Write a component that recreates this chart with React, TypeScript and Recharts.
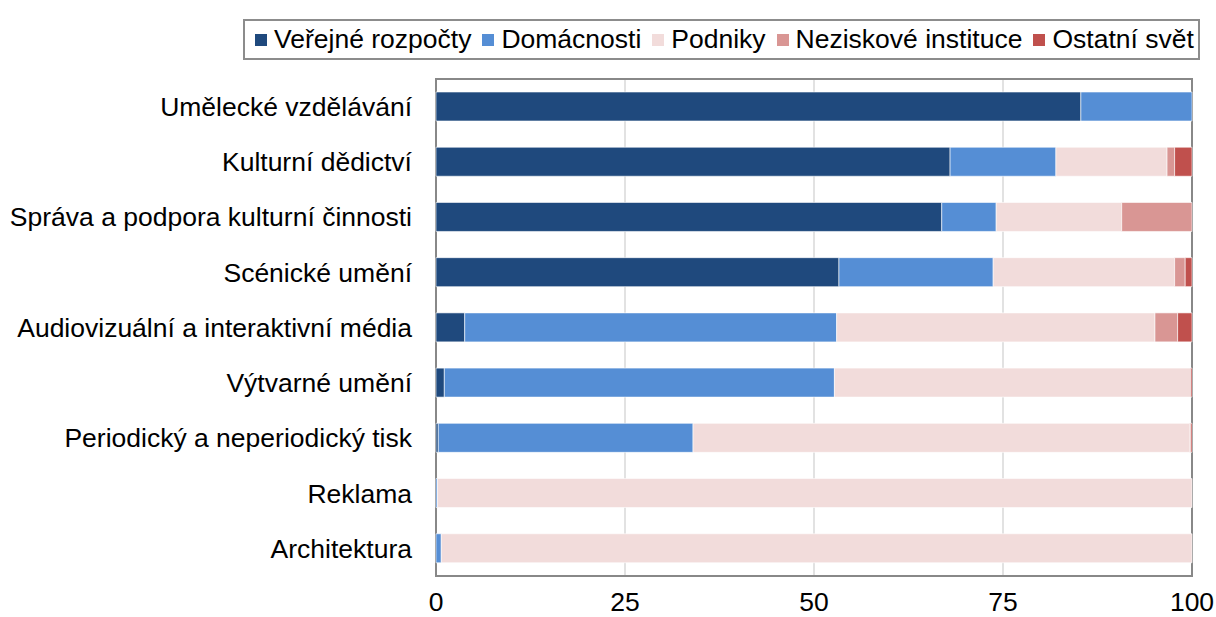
import { BarChart, Bar, XAxis, YAxis, CartesianGrid, ReferenceArea } from 'recharts';

const categories = [
  'Umělecké vzdělávání',
  'Kulturní dědictví',
  'Správa a podpora kulturní činnosti',
  'Scénické umění',
  'Audiovizuální a interaktivní média',
  'Výtvarné umění',
  'Periodický a neperiodický tisk',
  'Reklama',
  'Architektura',
];

const verejneRozpocty = [85.3, 68.0, 66.9, 53.3, 3.8, 1.1, 0.3, 0, 0];
const domacnosti = [14.7, 14.0, 7.2, 20.4, 49.2, 51.6, 33.7, 0.2, 0.7];
const podniky = [0, 14.7, 16.6, 24.0, 42.1, 47.1, 65.7, 99.8, 99.3];
const neziskove = [0, 1.0, 9.3, 1.4, 3.0, 0, 0.1, 0, 0];
const ostatniSvet = [0, 2.3, 0, 0.9, 1.9, 0.2, 0.2, 0, 0];

const xTicks = [0, 25, 50, 75, 100];

const series = [
  { key: 'verejne', name: 'Veřejné rozpočty', color: '#1F497D', values: verejneRozpocty },
  { key: 'domacnosti', name: 'Domácnosti', color: '#558ED5', values: domacnosti },
  { key: 'podniky', name: 'Podniky', color: '#F2DCDB', values: podniky },
  { key: 'neziskove', name: 'Neziskové instituce', color: '#D99694', values: neziskove },
  { key: 'ostatni', name: 'Ostatní svět', color: '#C0504D', values: ostatniSvet },
];

const data = categories.map((name, i) => {
  const row: Record<string, string | number> = { name };
  series.forEach((s) => {
    row[s.key] = s.values[i];
  });
  return row;
});

const font = '"Liberation Sans", Arial, sans-serif';
const fontSize = 26.5;

const Legend = () => (
  <div
    style={{
      position: 'absolute',
      left: 243,
      top: 19,
      width: 957,
      height: 41,
      border: '2px solid #8c8c8c',
      boxSizing: 'border-box',
      display: 'flex',
      alignItems: 'center',
      paddingLeft: 10,
      fontFamily: font,
      fontSize,
      color: '#000',
      whiteSpace: 'nowrap',
    }}
  >
    {series.map((s) => (
      <span key={s.key} style={{ display: 'inline-flex', alignItems: 'center', marginRight: 11 }}>
        <span style={{ width: 12, height: 12, background: s.color, marginRight: 7, display: 'inline-block' }} />
        {s.name}
      </span>
    ))}
  </div>
);

export default function App() {
  return (
    <div style={{ position: 'absolute', left: 0, top: 0, width: 1216, height: 617, background: '#fff' }}>
      <Legend />
      <BarChart
        width={1216}
        height={617}
        data={data}
        layout="vertical"
        margin={{ top: 79, right: 24, bottom: 0, left: 0 }}
        barSize={29}
      >
        <CartesianGrid horizontal={false} stroke="#d9d9d9" strokeWidth={1.5} />
        <XAxis
          type="number"
          domain={[0, 100]}
          ticks={xTicks}
          axisLine={false}
          tickLine={false}
          tickSize={0}
          tickMargin={16}
          height={41}
          tick={{ fontSize, fill: '#000', fontFamily: font }}
        />
        <YAxis
          type="category"
          dataKey="name"
          width={436}
          axisLine={false}
          tickLine={false}
          tickSize={0}
          tickMargin={24}
          interval={0}
          tick={{ fontSize, fill: '#000', fontFamily: font }}
        />
        {series.map((s) => (
          <Bar
            key={s.key}
            dataKey={s.key}
            name={s.name}
            stackId="a"
            fill={s.color}
            stroke="#ffffff"
            strokeWidth={0.6}
            isAnimationActive={false}
          />
        ))}
        <ReferenceArea x1={0} x2={100} fill="none" stroke="#888888" strokeWidth={2} ifOverflow="visible" />
      </BarChart>
    </div>
  );
}
